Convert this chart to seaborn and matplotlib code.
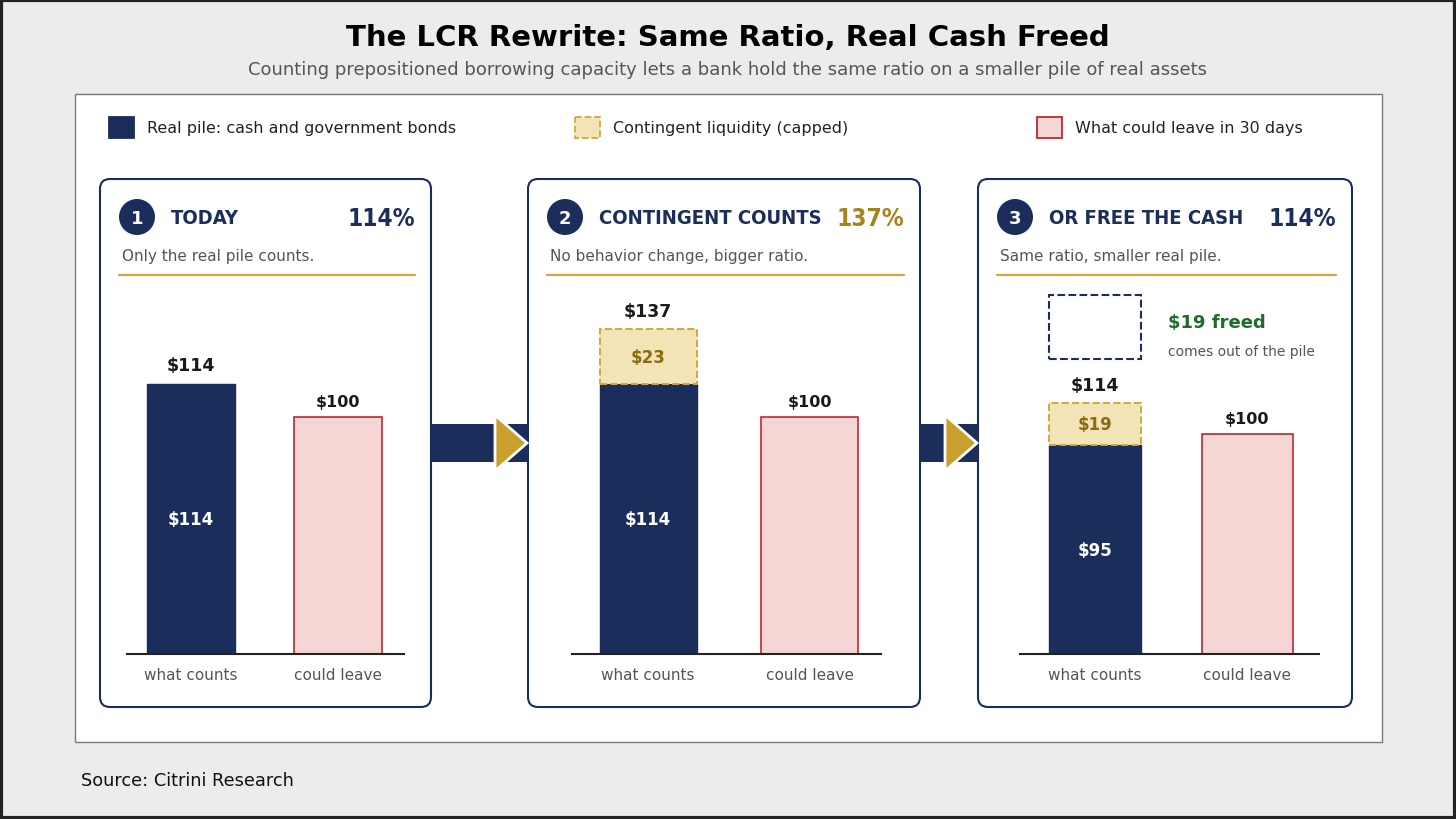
import numpy as np
import pandas as pd
import seaborn as sns
import matplotlib.pyplot as plt
from matplotlib.patches import Rectangle, FancyBboxPatch, Circle, Polygon
from matplotlib.transforms import blended_transform_factory

# ---- data
stages = ["TODAY", "CONTINGENT COUNTS", "OR FREE THE CASH"]
notes = ["Only the real pile counts.", "No behavior change, bigger ratio.",
         "Same ratio, smaller real pile."]
ratios = [114, 137, 114]
real_pile = [114, 114, 95]
contingent = [0, 23, 19]
could_leave = [100, 100, 100]
categories = ["what counts", "could leave"]
freed = 19
legend_labels = ["Real pile: cash and government bonds", "Contingent liquidity (capped)",
                 "What could leave in 30 days"]

NAVY = "#1b2d5a"
GOLD = "#d4a838"
CREAM = "#f3e4b7"
GOLD_TXT = "#8c6a12"
PINK = "#f5d6d4"
RED = "#c0272d"
GREEN = "#1f6b2c"
GRAY = "#555555"

sns.set_theme(style="white")
plt.rcParams['font.family'] = ['DejaVu Sans']

W, H = 1456, 820
fig = plt.figure(figsize=(W / 100, H / 100), dpi=100)
fig.patch.set_facecolor("#ececec")

bg = fig.add_axes([0, 0, 1, 1])
bg.set_xlim(0, W)
bg.set_ylim(H, 0)
bg.axis("off")

bg.add_patch(Rectangle((1, 1), W - 2, H - 2, fill=False, ec="#222222", lw=3, zorder=10))
bg.add_patch(Rectangle((75, 95), 1307, 648, fc="white", ec="#7a7a7a", lw=1, zorder=0.5))

fig.text(0.5, 1 - 38 / H, "The LCR Rewrite: Same Ratio, Real Cash Freed",
         ha="center", va="center", fontsize=21, fontweight="bold", color="black")
fig.text(0.5, 1 - 70 / H, "Counting prepositioned borrowing capacity lets a bank hold the same ratio "
         "on a smaller pile of real assets", ha="center", va="center", fontsize=13, color=GRAY)
fig.text(81 / W, 1 - 781 / H, "Source: Citrini Research", ha="left", va="center",
         fontsize=12.8, color="#111111")

# legend
leg_x = [109, 575, 1037]
leg_style = [dict(fc=NAVY, ec=NAVY, ls="-"), dict(fc=CREAM, ec=GOLD, ls="--"),
             dict(fc=PINK, ec=RED, ls="-")]
for lx, lab, st in zip(leg_x, legend_labels, leg_style):
    bg.add_patch(Rectangle((lx, 118), 25, 21, lw=1.3, zorder=2, **st))
    bg.text(lx + 38, 128.5, lab, ha="left", va="center", fontsize=11.5, color="#222222")

# cards and axes geometry (pixels)
cards = [(100, 431), (528, 920), (978, 1352)]
bar_axes = [(127, 404), (572, 881), (1020, 1319)]
xlims = [(-0.435, 1.45), (-0.47, 1.44), (-0.49, 1.47)]
ymax = [154, 154, 166]
base_y, top_y = 655, 290

for i, (cx0, cx1) in enumerate(cards):
    bg.add_patch(FancyBboxPatch((cx0, 180), cx1 - cx0, 528, boxstyle="round,pad=0,rounding_size=10",
                                fc="white", ec=NAVY, lw=1.5, zorder=2))
    bg.add_patch(Circle((cx0 + 37, 218), 18, fc=NAVY, ec="none", zorder=3))
    bg.text(cx0 + 37, 218.5, str(i + 1), ha="center", va="center", fontsize=13,
            fontweight="bold", color="white", zorder=4)
    bg.text(cx0 + 71, 219, stages[i], ha="left", va="center", fontsize=14.5,
            fontweight="bold", fontstretch="condensed", color=NAVY, zorder=4)
    pct_color = "#a8821a" if ratios[i] != ratios[0] else NAVY
    bg.text(cx1 - 16, 219, f"{ratios[i]}%", ha="right", va="center", fontsize=17.5,
            fontweight="bold", fontstretch="condensed", color=pct_color, zorder=4)
    bg.text(cx0 + 22, 256, notes[i], ha="left", va="center", fontsize=11, color=GRAY, zorder=4)
    bg.plot([cx0 + 19, cx1 - 16], [276, 276], color=GOLD, lw=1.6, zorder=4)

# arrows between cards
for (a0, a1), (b0, b1) in zip(cards[:-1], cards[1:]):
    bg.add_patch(Rectangle((a1 - 5, 425), b0 - a1 + 10, 38, fc=NAVY, ec="none", zorder=1))
    bg.add_patch(Polygon([(b0 - 33, 416), (b0 - 33, 472), (b0 - 1, 444)], closed=True,
                         fc="#c99f2e", ec="white", lw=2, zorder=3))

# bars
for i in range(3):
    x0, x1 = bar_axes[i]
    ax = fig.add_axes([x0 / W, 1 - base_y / H, (x1 - x0) / W, (base_y - top_y) / H])
    ax.set_facecolor("none")
    df = pd.DataFrame({"cat": categories, "value": [real_pile[i], could_leave[i]]})
    sns.barplot(data=df, x="cat", y="value", hue="cat", palette=[NAVY, PINK], width=0.6,
                saturation=1, legend=False, ax=ax)
    ax.patches[0].set_edgecolor(NAVY)
    ax.patches[1].set_edgecolor(RED)
    ax.patches[1].set_linewidth(1.2)
    if contingent[i]:
        ax.bar(0, contingent[i], bottom=real_pile[i], width=0.6, color=CREAM,
               edgecolor=GOLD, linestyle="--", linewidth=1.4)
        ax.text(0, real_pile[i] + contingent[i] / 2, f"${contingent[i]}", ha="center", va="center",
                fontsize=12, fontweight="bold", color=GOLD_TXT)
    total = real_pile[i] + contingent[i]
    ax.annotate(f"${total}", (0, total), xytext=(0, 7), textcoords="offset points",
                ha="center", va="bottom", fontsize=12.5, fontweight="bold", color="#1a1a1a")
    ax.annotate(f"${could_leave[i]}", (1, could_leave[i]), xytext=(0, 6), textcoords="offset points",
                ha="center", va="bottom", fontsize=11.5, fontweight="bold", color="#1a1a1a")
    ax.text(0, real_pile[i] / 2, f"${real_pile[i]}", ha="center", va="center",
            fontsize=12, fontweight="bold", color="white")
    ax.set_xlim(*xlims[i])
    ax.set_ylim(0, ymax[i])
    ax.set_xlabel("")
    ax.set_ylabel("")
    ax.set_yticks([])
    for s in ["top", "right", "left"]:
        ax.spines[s].set_visible(False)
    ax.spines["bottom"].set_color("#222222")
    ax.spines["bottom"].set_linewidth(1.5)
    ax.tick_params(axis="x", length=0, pad=9, labelsize=11, labelcolor=GRAY)
    if i == 2:
        tr = blended_transform_factory(ax.transData, ax.transAxes)
        ax.add_patch(Rectangle((-0.3, 0.808), 0.6, 0.175, transform=tr, fill=False,
                               ec=NAVY, ls="--", lw=1.5))
        ax.text(0.48, 0.91, f"${freed} freed", transform=tr, ha="left", va="center",
                fontsize=13, fontweight="bold", color=GREEN)
        ax.text(0.48, 0.83, "comes out of the pile", transform=tr, ha="left", va="center",
                fontsize=10, color=GRAY)

fig.savefig("out.png", dpi=100, facecolor=fig.get_facecolor())
